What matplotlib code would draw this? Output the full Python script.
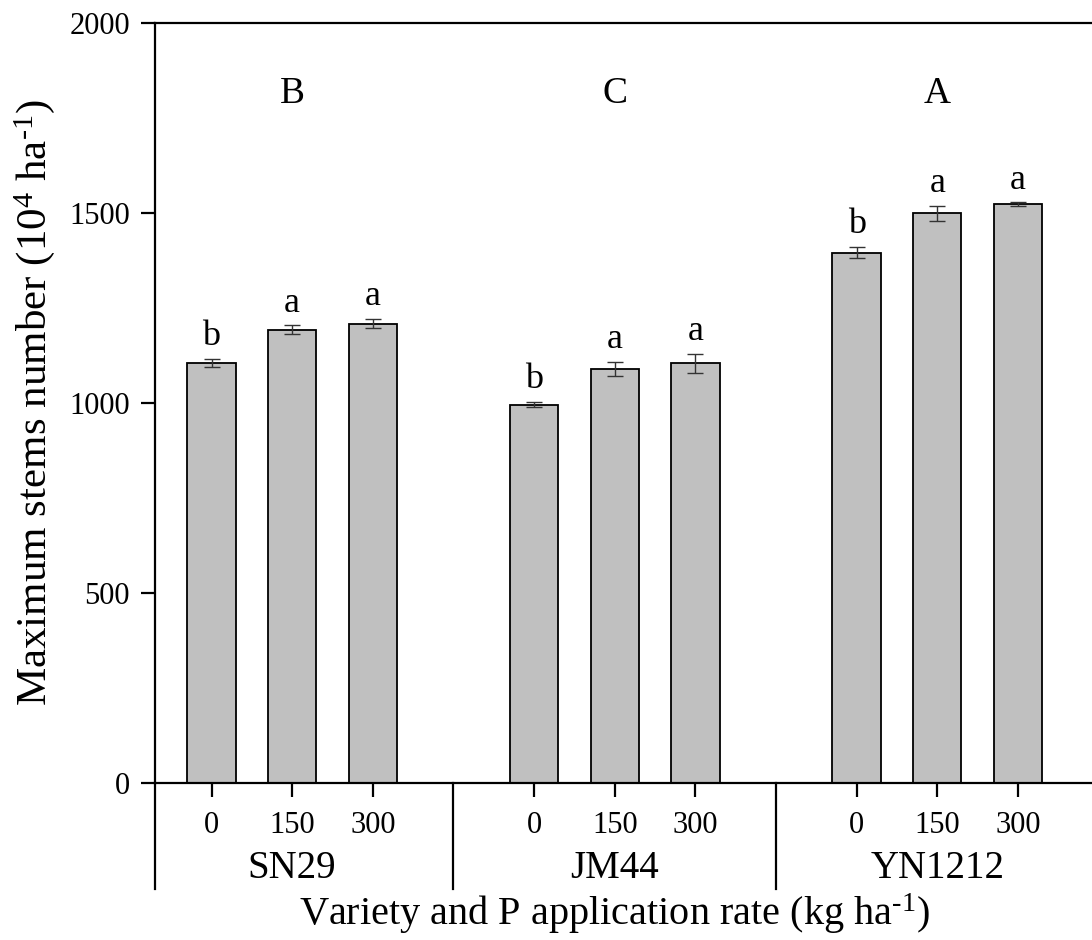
import matplotlib
matplotlib.use("Agg")
import matplotlib.pyplot as plt
import matplotlib.transforms as mtransforms

plt.rcParams["font.family"] = ["Liberation Serif", "DejaVu Serif"]
plt.rcParams["mathtext.fontset"] = "custom"
plt.rcParams["mathtext.rm"] = "Liberation Serif"
plt.rcParams["mathtext.it"] = "Liberation Serif:italic"

varieties = ["SN29", "JM44", "YN1212"]
variety_letters = ["B", "C", "A"]
p_rates = ["0", "150", "300"]

stems = [
    [1106, 1193, 1209],
    [996, 1089, 1105],
    [1396, 1499, 1523],
]
errors = [
    [11, 12, 12],
    [7, 19, 25],
    [15, 20, 5],
]
letters = [
    ["b", "a", "a"],
    ["b", "a", "a"],
    ["b", "a", "a"],
]

HY = "\u2010"  # plain hyphen in superscripts, as in the original

fig = plt.figure(figsize=(10.92, 9.40), dpi=100)
ax = fig.add_axes([0.142, 0.167, 0.864, 0.8085])

positions = []
tick_labels = []
for g, name in enumerate(varieties):
    xs = [1 + 4 * g + i for i in range(len(p_rates))]
    ax.bar(xs, stems[g], width=0.6, color="#c0c0c0", edgecolor="black",
           linewidth=1.3, zorder=2)
    ax.errorbar(xs, stems[g], yerr=errors[g], fmt="none", ecolor="#333333",
                elinewidth=1.0, capsize=5.5, capthick=1.0, zorder=3)
    for x, v, e, lab in zip(xs, stems[g], errors[g], letters[g]):
        ax.annotate(lab, (x, v + e), xytext=(0, 4), textcoords="offset points",
                    ha="center", va="bottom", fontsize=26)
    ax.text(xs[1], 1815, variety_letters[g], ha="center", va="center",
            fontsize=27)
    positions += xs
    tick_labels += p_rates

ax.set_xlim(0.3, 12.0)
ax.set_ylim(0, 2000)
ax.set_yticks([0, 500, 1000, 1500, 2000])
ax.set_xticks(positions)
ax.set_xticklabels(tick_labels)

for side in ["left", "bottom", "top"]:
    ax.spines[side].set_linewidth(1.6)
ax.spines["right"].set_visible(False)

ax.tick_params(axis="both", direction="out", length=10, width=1.6,
               labelsize=22, pad=8)
ax.tick_params(axis="x", pad=10)

# group separators below the axis
trans = mtransforms.blended_transform_factory(ax.transData, ax.transAxes)
for xsep in [0.3, 4, 8]:
    ax.plot([xsep, xsep], [0, -0.14], color="black", linewidth=1.6,
            transform=trans, clip_on=False)

for g, name in enumerate(varieties):
    ax.text(2 + 4 * g, -0.113, name, transform=trans, ha="center",
            va="center", fontsize=28)

ax.set_ylabel("Maximum stems number (10$^{\\mathrm{4}}$ ha$^{\\mathrm{" + HY + "1}}$)",
              fontsize=31)
ax.yaxis.set_label_coords(-0.104, 0.5)

fig.text(0.563, 0.028, "Variety and P application rate (kg ha$^{\\mathrm{" + HY + "1}}$)",
         ha="center", va="center", fontsize=29)

fig.savefig("out.png", dpi=100)
